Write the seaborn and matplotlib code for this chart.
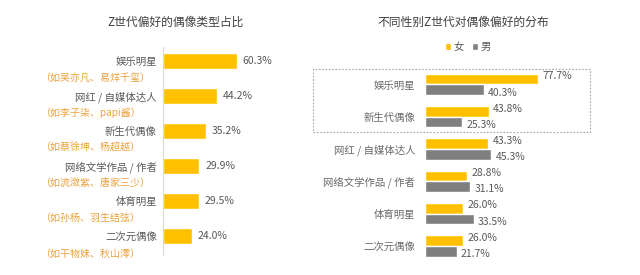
import matplotlib
matplotlib.use("Agg")
import matplotlib.pyplot as plt
import seaborn as sns
import pandas as pd
from matplotlib.patches import Rectangle
from matplotlib.transforms import blended_transform_factory

# Données du graphique de gauche
types = ["娱乐明星", "网红 / 自媒体达人", "新生代偶像", "网络文学作品 / 作者", "体育明星", "二次元偶像"]
share = [60.3, 44.2, 35.2, 29.9, 29.5, 24.0]
examples = ["（如吴亦凡、易烊千玺）", "（如李子柒、papi酱）", "（如蔡徐坤、杨超越）",
            "（如流潋紫、唐家三少）", "（如孙杨、羽生结弦）", "（如干物妹、秋山澪）"]

# Données du graphique de droite
types_g = ["娱乐明星", "新生代偶像", "网红 / 自媒体达人", "网络文学作品 / 作者", "体育明星", "二次元偶像"]
female = [77.7, 43.8, 43.3, 28.8, 26.0, 26.0]
male = [40.3, 25.3, 45.3, 31.1, 33.5, 21.7]
genders = ["女", "男"]

YELLOW = "#FFC000"
GREY = "#7F7F7F"
TXT = "#595959"

sns.set_style("white")
plt.rcParams["font.family"] = ["Noto Sans CJK SC", "DejaVu Sans"]

W, H = 640, 275
fig = plt.figure(figsize=(6.4, 2.75), dpi=100)


def box(x0, y0, x1, y1):
    # pixels -> fraction de figure
    return [x0 / W, 1 - y1 / H, (x1 - x0) / W, (y1 - y0) / H]


# ---------- Gauche ----------
ax1 = fig.add_axes(box(163, 47, 293, 255))
df1 = pd.DataFrame({"type": types, "share": share})
sns.barplot(data=df1, x="share", y="type", color=YELLOW, width=0.46,
            saturation=1, ax=ax1)
ax1.set_xlim(0, 106.5)
ax1.set_ylim(5.54, -0.4)
ax1.set_xlabel("")
ax1.set_ylabel("")
ax1.set_xticks([])
for s in ["top", "right", "bottom"]:
    ax1.spines[s].set_visible(False)
ax1.spines["left"].set_color("#D9D9D9")
ax1.spines["left"].set_linewidth(0.8)
ax1.tick_params(axis="y", length=0, pad=4.5, labelsize=7.5, labelcolor=TXT)
ax1.bar_label(ax1.containers[0], fmt="%.1f%%", padding=4, fontsize=7.5, color=TXT)

tr = blended_transform_factory(fig.transFigure, ax1.transData)
for i, ex in enumerate(examples):
    ax1.text(40 / W, i + 0.49, ex, transform=tr, ha="left", va="center",
             fontsize=7.2, color="#EBA23F")

fig.text(176 / W, 1 - 22 / H, "Z世代偏好的偶像类型占比", ha="center", va="center",
         fontsize=8.5, color="#404040")

# ---------- Droite ----------
ax2 = fig.add_axes(box(425, 66, 590, 262))
df2 = pd.DataFrame({
    "type": types_g * 2,
    "gender": [genders[0]] * len(types_g) + [genders[1]] * len(types_g),
    "value": female + male,
})
sns.barplot(data=df2, x="value", y="type", hue="gender", hue_order=genders,
            palette=[YELLOW, GREY], width=0.66, saturation=1, ax=ax2)
ax2.set_xlim(0, 113)
ax2.set_ylim(5.5, -0.57)
ax2.set_xlabel("")
ax2.set_ylabel("")
ax2.set_xticks([])
sns.despine(ax=ax2, left=True, bottom=True)
ax2.tick_params(axis="y", length=0, pad=7, labelsize=7.5, labelcolor="#6A6A6A")

for cont, dy in zip(ax2.containers, [2, -2]):
    for p in cont:
        ax2.annotate(f"{p.get_width():.1f}%",
                     xy=(p.get_width(), p.get_y() + p.get_height() / 2),
                     xytext=(3, dy), textcoords="offset points",
                     ha="left", va="center", fontsize=7.5, color=TXT)

handles, labels = ax2.get_legend_handles_labels()
ax2.legend_.remove()
fig.legend(handles, labels, loc="center", bbox_to_anchor=(468 / W, 1 - 47 / H),
           ncol=2, frameon=False, fontsize=7.5, handlelength=0.6, handleheight=0.6,
           handletextpad=0.3, columnspacing=0.7, labelcolor=TXT)

fig.text(463 / W, 1 - 22 / H, "不同性别Z世代对偶像偏好的分布", ha="center", va="center",
         fontsize=8.5, color="#404040")

# Cadre pointillé autour des deux premières catégories
fig.add_artist(Rectangle((313 / W, 1 - 132 / H), (590 - 313) / W, (132 - 69) / H,
                         transform=fig.transFigure, fill=False,
                         edgecolor="#A6A6A6", linestyle=(0, (1.5, 1.5)), linewidth=0.8))

fig.savefig("out.png", dpi=100, facecolor="white")
